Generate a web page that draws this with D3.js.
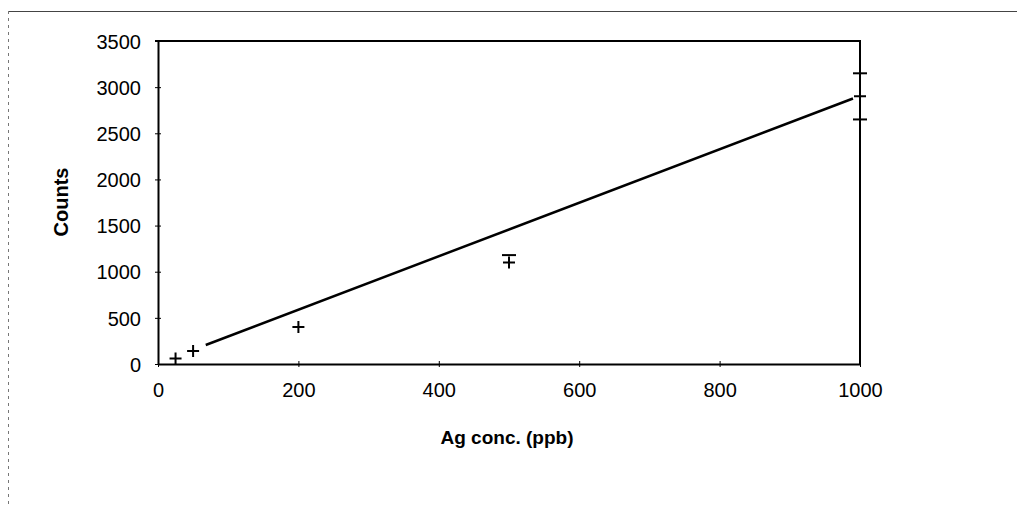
<!DOCTYPE html>
<html><head><meta charset="utf-8">
<script src="https://cdn.jsdelivr.net/npm/d3@7"></script>
<style>
body{margin:0;background:#fff;}
svg{display:block;}
text{font-family:"Liberation Sans",Arial,sans-serif;fill:#000;}
</style></head>
<body><svg id="c" width="1017" height="506"></svg>
<script>
// Data
const concentrations = [25, 50, 200, 500, 1000];
const counts = [60, 140, 400, 1100, 2900];
const errUpper = [null, null, null, 1180, 3150];
const errLower = [null, null, null, null, 2650];
const trendX = [68, 990];
const trendY = [206, 2877];
const xTicks = [0, 200, 400, 600, 800, 1000];
const yTicks = [0, 500, 1000, 1500, 2000, 2500, 3000, 3500];

const svg = d3.select("#c");
const L = 158, R = 860, T = 41, B = 364;
const x = d3.scaleLinear().domain([0, 1000]).range([L, R]);
const y = d3.scaleLinear().domain([0, 3500]).range([B, T]);
const fmt = d3.format("d");

// outer frame
svg.append("line").attr("x1", 8).attr("x2", 1017).attr("y1", 11.5).attr("y2", 11.5)
  .attr("stroke", "#444").attr("stroke-width", 1.2);
svg.append("line").attr("x1", 8.5).attr("x2", 8.5).attr("y1", 11).attr("y2", 506)
  .attr("stroke", "#777").attr("stroke-width", 1).attr("stroke-dasharray", "3,4");

// plot box top & right
svg.append("path").attr("d", `M${L - 3},${T}H${R}V${B}`)
  .attr("fill", "none").attr("stroke", "#000").attr("stroke-width", 2);

// axes
const xAxis = svg.append("g").attr("transform", `translate(0,${B})`)
  .call(d3.axisBottom(x).tickValues(xTicks).tickFormat(fmt).tickSize(3).tickPadding(16).tickSizeOuter(0));
const yAxis = svg.append("g").attr("transform", `translate(${L},0)`)
  .call(d3.axisLeft(y).tickValues(yTicks).tickFormat(fmt).tickSize(3).tickPadding(14).tickSizeOuter(0));
[xAxis, yAxis].forEach(g => {
  g.select(".domain").attr("stroke", "#000").attr("stroke-width", 2);
  g.selectAll(".tick line").attr("stroke", "#000").attr("stroke-width", 1);
  g.selectAll(".tick text").attr("font-size", 20).attr("font-family", "Liberation Sans, Arial, sans-serif");
});
xAxis.selectAll(".tick line").attr("y1", -3);
yAxis.selectAll(".tick line").attr("x1", 3);
yAxis.selectAll(".tick text").attr("dy", "0.36em");

// trend line
svg.append("line")
  .attr("x1", x(trendX[0])).attr("y1", y(trendY[0]))
  .attr("x2", x(trendX[1])).attr("y2", y(trendY[1]))
  .attr("stroke", "#000").attr("stroke-width", 2.5);

// error caps
const capW = 7;
concentrations.forEach((c, i) => {
  [errUpper[i], errLower[i]].forEach(v => {
    if (v == null) return;
    svg.append("line").attr("x1", x(c) - capW).attr("x2", x(c) + capW)
      .attr("y1", y(v)).attr("y2", y(v)).attr("stroke", "#000").attr("stroke-width", 2);
  });
});

// plus markers
const m = 6;
svg.append("g").selectAll("path").data(concentrations.map((c, i) => [c, counts[i]]))
  .join("path")
  .attr("d", d => `M${x(d[0]) - m},${y(d[1])}H${x(d[0]) + m}M${x(d[0])},${y(d[1]) - m}V${y(d[1]) + m}`)
  .attr("stroke", "#000").attr("stroke-width", 2).attr("fill", "none");

// axis titles
svg.append("text").attr("x", 507).attr("y", 444).attr("text-anchor", "middle")
  .attr("font-size", 19).attr("font-weight", "bold").text("Ag conc. (ppb)");
svg.append("text").attr("transform", "translate(68,202) rotate(-90)").attr("text-anchor", "middle")
  .attr("font-size", 20).attr("font-weight", "bold").text("Counts");
</script></body></html>
